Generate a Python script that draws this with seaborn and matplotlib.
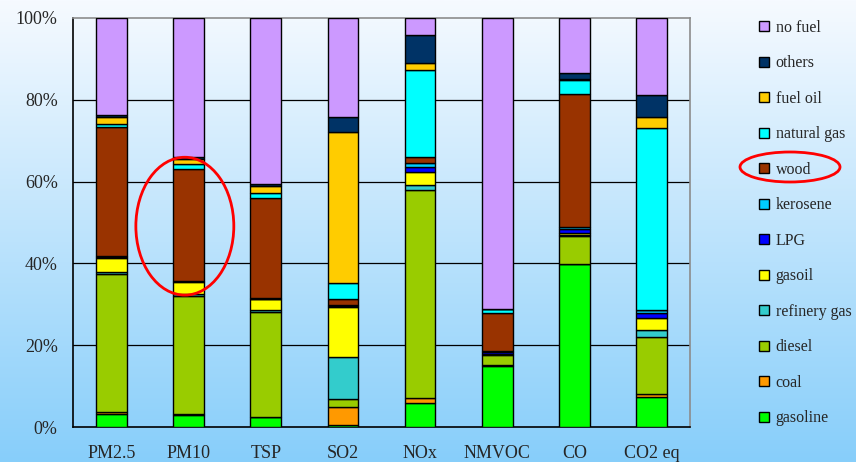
import numpy as np
import pandas as pd
import matplotlib
matplotlib.use("Agg")
import matplotlib.pyplot as plt
import seaborn as sns
from matplotlib.patches import Ellipse, Patch

# Share of emissions by fuel (%), per pollutant
pollutants = ["PM2.5", "PM10", "TSP", "SO2", "NOx", "NMVOC", "CO", "CO2 eq"]

gasoline      = [3.3, 2.9, 2.4, 0.6, 5.8, 14.9, 39.9, 7.4]
coal          = [0.3, 0.2, 0.1, 4.2, 1.2, 0.3, 0.0, 0.7]
diesel        = [33.8, 28.9, 25.5, 2.0, 50.9, 2.4, 6.8, 13.8]
refinery_gas  = [0.5, 0.4, 0.6, 10.2, 1.3, 0.2, 0.2, 1.8]
gasoil        = [3.5, 3.1, 2.6, 12.3, 3.1, 0.1, 0.5, 2.9]
lpg           = [0.1, 0.1, 0.1, 0.2, 1.2, 0.4, 1.0, 1.2]
kerosene      = [0.2, 0.2, 0.2, 0.4, 1.0, 0.2, 0.5, 0.8]
wood          = [31.6, 27.4, 24.4, 1.5, 1.6, 9.4, 32.6, 0.0]
natural_gas   = [0.8, 1.2, 1.2, 3.8, 21.2, 0.9, 3.4, 44.4]
fuel_oil      = [1.6, 1.2, 1.8, 37.0, 1.8, 0.0, 0.2, 2.9]
others        = [0.6, 0.4, 0.5, 3.7, 6.7, 0.0, 1.4, 5.3]
no_fuel       = [23.7, 34.0, 40.6, 24.1, 4.2, 71.2, 13.5, 18.8]

fuel_names = ["gasoline", "coal", "diesel", "refinery gas", "gasoil", "LPG",
              "kerosene", "wood", "natural gas", "fuel oil", "others", "no fuel"]
fuel_values = [gasoline, coal, diesel, refinery_gas, gasoil, lpg,
               kerosene, wood, natural_gas, fuel_oil, others, no_fuel]
fuel_colors = ["#00FF00", "#FF9900", "#99CC00", "#33CCCC", "#FFFF00", "#0000FF",
               "#00CCFF", "#993300", "#00FFFF", "#FFCC00", "#003366", "#CC99FF"]

y_ticks = [0, 20, 40, 60, 80, 100]
y_tick_labels = ["0%", "20%", "40%", "60%", "80%", "100%"]

sns.set_style("white")
plt.rcParams["font.family"] = ["Liberation Serif", "DejaVu Serif"]

fig = plt.figure(figsize=(8.56, 4.62), dpi=100)

# vertical gradient backdrop
bg = fig.add_axes([0, 0, 1, 1], zorder=-10)
top_c = np.array([246, 250, 255]) / 255.0
bot_c = np.array([135, 206, 250]) / 255.0
t = np.linspace(0, 1, 256)[:, None]
grad = (top_c[None, :] * (1 - t) + bot_c[None, :] * t)[:, None, :]
bg.imshow(grad, aspect="auto", extent=[0, 1, 0, 1])
bg.set_axis_off()

ax = fig.add_axes([73 / 856, 35 / 462, 617 / 856, 409 / 462])
ax.set_facecolor("none")

df = pd.DataFrame({"pollutant": pollutants})
bottom = np.zeros(len(pollutants))
for name, vals, col in zip(fuel_names, fuel_values, fuel_colors):
    df[name] = vals
    sns.barplot(data=df, x="pollutant", y=name, color=col, bottom=bottom,
                width=0.4, edgecolor="black", linewidth=1.0, saturation=1,
                ax=ax, zorder=3)
    bottom = bottom + np.array(vals)

ax.set_xlim(-0.5, len(pollutants) - 0.5)
ax.set_ylim(0, 100)
ax.set_xlabel("")
ax.set_ylabel("")

ax.set_yticks(y_ticks)
ax.set_yticklabels(y_tick_labels, fontsize=13)
ax.set_yticks(np.arange(0, 101, 5), minor=True)
ax.tick_params(axis="y", which="major", direction="out", length=7, width=1, color="black", pad=4)
ax.tick_params(axis="y", which="minor", direction="in", length=5, width=1, color="black")

ax.set_xticks(range(len(pollutants)))
ax.set_xticklabels(pollutants, fontsize=13)
ax.set_xticks(np.arange(-0.5, len(pollutants), 1.0), minor=True)
ax.tick_params(axis="x", which="major", length=0, pad=13)
ax.tick_params(axis="x", which="minor", direction="out", length=5, width=1, color="#444444")

for yv in y_ticks[1:-1]:
    ax.axhline(yv, color="black", lw=0.9, zorder=1)

for side in ["left", "bottom"]:
    ax.spines[side].set_color("black")
    ax.spines[side].set_linewidth(1.2)
for side in ["top", "right"]:
    ax.spines[side].set_visible(True)
    ax.spines[side].set_color("#8c8c8c")
    ax.spines[side].set_linewidth(1.2)

# legend, top entry first
handles = [Patch(facecolor=c, edgecolor="black", linewidth=1.0)
           for c in fuel_colors[::-1]]
leg = fig.legend(handles, fuel_names[::-1], loc="upper left",
                 bbox_to_anchor=(751 / 856, 1 - 12 / 462), frameon=False,
                 fontsize=11.5, handlelength=0.6, handleheight=0.6,
                 handletextpad=0.45, labelspacing=1.22, borderpad=0)

# highlight wood
ax.add_patch(Ellipse((0.95, 49.1), 1.27, 33.7, fill=False, edgecolor="red",
                     lw=2.0, zorder=6, clip_on=False))
fig.add_artist(Ellipse((790 / 856, 1 - 167 / 462), 100 / 856, 30 / 462,
                       transform=fig.transFigure, fill=False,
                       edgecolor="red", lw=2.0))

fig.savefig("out.png", dpi=100)
